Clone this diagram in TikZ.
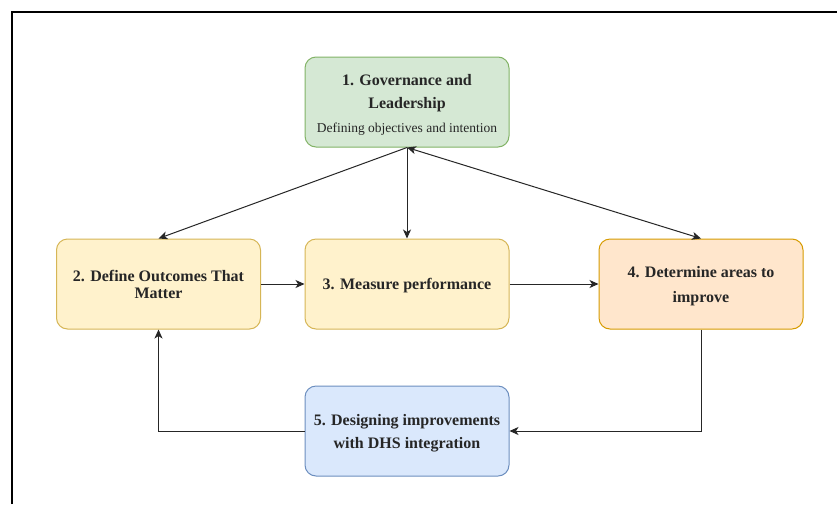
\documentclass[tikz,border=0pt]{standalone}
\usepackage{fontspec}
\setmainfont{Liberation Serif}
\usetikzlibrary{arrows.meta}

\definecolor{govfill}{HTML}{D5E8D4}
\definecolor{govline}{HTML}{82B366}
\definecolor{stepfill}{HTML}{FFF2CC}
\definecolor{stepline}{HTML}{D6B656}
\definecolor{areafill}{HTML}{FFE6CC}
\definecolor{arealine}{HTML}{D79B00}
\definecolor{designfill}{HTML}{DAE8FC}
\definecolor{designline}{HTML}{6C8EBF}

% taller first line lowers the text block a little inside its box
\newcommand{\firstline}{\rule{0pt}{16pt}}

\tikzset{
  stagebox/.style={
    rectangle, rounded corners=11pt, line width=1pt,
    minimum width=204pt, minimum height=90pt, inner sep=0pt,
    align=center, text=black!85
  },
  link/.style={
    line width=1pt, draw=black!85,
    -{Stealth[length=9pt,width=8pt,inset=2.5pt]}
  },
  bothway/.style={
    line width=1pt, draw=black!85,
    {Stealth[length=9pt,width=8pt,inset=2.5pt]}-{Stealth[length=9pt,width=8pt,inset=2.5pt]}
  }
}

\begin{document}
\begin{tikzpicture}[x=1pt,y=-1pt]
  \useasboundingbox (0,0) rectangle (837,504);
  \fill[white] (0,0) rectangle (837,504);

  % frame
  \draw[line width=1.3pt] (12,504) -- (12,12) -- (837,12);

  % stages
  \node[stagebox, fill=govfill, draw=govline,
        font={\fontsize{16}{23}\selectfont\bfseries}] (gov) at (407,102)
    {\firstline 1. Governance and\\ Leadership\\[1pt]
     {\fontsize{13.5}{16}\selectfont\mdseries Defining objectives and intention}};

  \node[stagebox, fill=stepfill, draw=stepline,
        font={\fontsize{16}{17}\selectfont\bfseries}] (outc) at (158.5,284)
    {2. Define Outcomes That\\ Matter};

  \node[stagebox, fill=stepfill, draw=stepline,
        font={\fontsize{16}{17}\selectfont\bfseries}] (meas) at (407,284)
    {\rule{0pt}{15pt}3. Measure performance};

  \node[stagebox, fill=areafill, draw=arealine,
        font={\fontsize{16}{25}\selectfont\bfseries}] (area) at (701,284)
    {\firstline 4. Determine areas to\\ improve};

  \node[stagebox, fill=designfill, draw=designline,
        font={\fontsize{16}{23}\selectfont\bfseries}] (design) at (407,431)
    {\firstline 5. Designing improvements\\ with DHS integration};

  % connectors
  \draw[link] (gov.south) -- (outc.north);
  \draw[link] (gov.south) -- (meas.north);
  \draw[bothway] (gov.south) -- (area.north);
  \draw[link] (outc.east) -- (meas.west);
  \draw[link] (meas.east) -- (area.west);
  \draw[link] (area.south) |- (design.east);
  \draw[link] (design.west) -| (outc.south);
\end{tikzpicture}
\end{document}
